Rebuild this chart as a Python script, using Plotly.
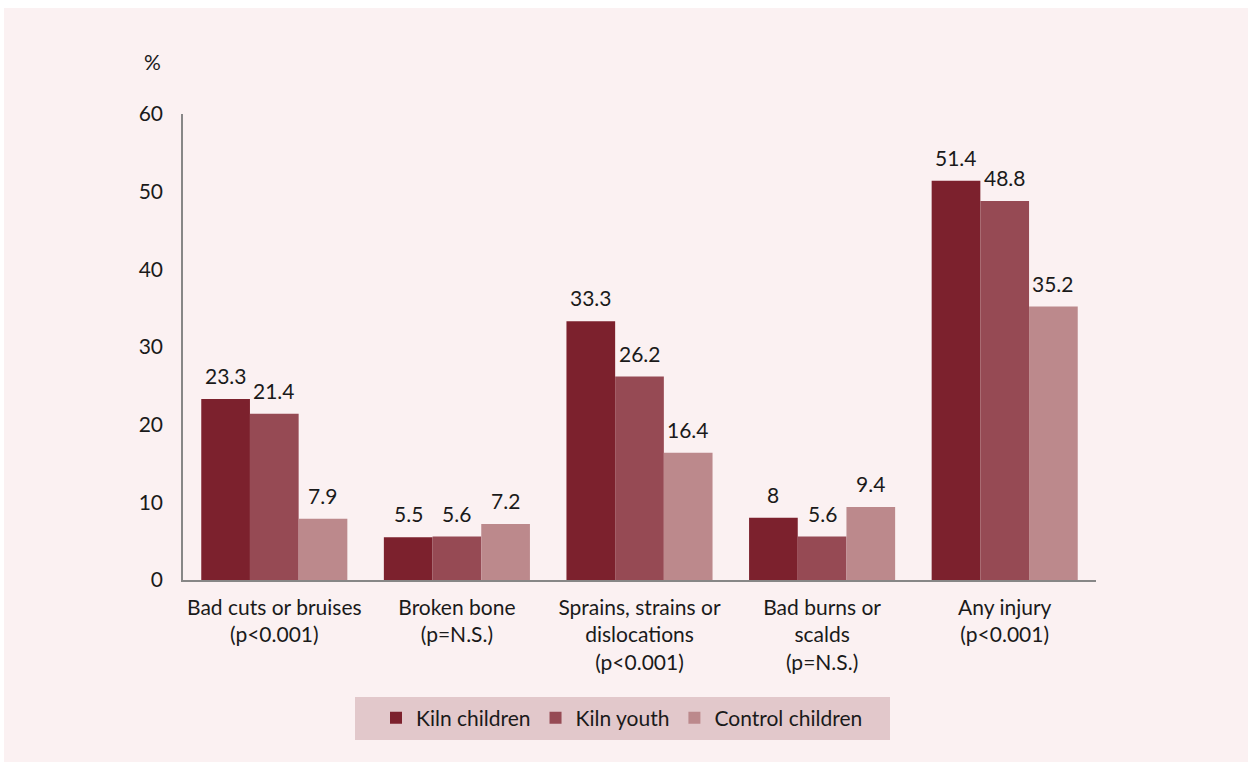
import plotly.graph_objects as go

categories = ["Bad cuts or bruises<br>(p<0.001)", "Broken bone<br>(p=N.S.)",
              "Sprains, strains or<br>dislocations<br>(p<0.001)", "Bad burns or<br>scalds<br>(p=N.S.)",
              "Any injury<br>(p<0.001)"]
kiln_children = [23.3, 5.5, 33.3, 8, 51.4]
kiln_youth = [21.4, 5.6, 26.2, 5.6, 48.8]
control_children = [7.9, 7.2, 16.4, 9.4, 35.2]
series_names = ["Kiln children", "Kiln youth", "Control children"]
colors = ["#7C212D", "#964A54", "#BC898C"]

FONT = "Lato"
FS = 21
TXT = "#1a1a1a"
fig = go.Figure()
all_series = [kiln_children, kiln_youth, control_children]
for name, vals, col in zip(series_names, all_series, colors):
    fig.add_trace(go.Bar(
        name=name, x=categories, y=vals, marker_color=col, marker_line_width=0,
    ))

L, R, T, B = 183, 152, 114, 182
W, H = 1248, 762
pw, ph = W - L - R, H - T - B

def px(x):
    return (x - L) / pw

def py(y):
    return (H - B - y) / ph

annotations = [dict(text="%", xref="paper", yref="paper", x=px(152), y=py(62),
                    xanchor="center", yanchor="middle", showarrow=False,
                    font=dict(family=FONT, size=FS, color=TXT))]
bar_w = 0.8 / len(all_series)
for s, vals in enumerate(all_series):
    off = (s - (len(all_series) - 1) / 2) * bar_w
    for i, v in enumerate(vals):
        annotations.append(dict(text=f"{v:g}", x=i + off, y=v, xref="x", yref="y",
                                yanchor="bottom", yshift=9, showarrow=False,
                                font=dict(family=FONT, size=FS, color=TXT)))

fig.update_layout(
    width=W, height=H, autosize=False,
    margin=dict(l=L, r=R, t=T, b=B),
    paper_bgcolor="#FBF1F2", plot_bgcolor="rgba(0,0,0,0)",
    barmode="group", bargap=0.2, bargroupgap=0,
    font=dict(family=FONT, size=FS, color=TXT),
    showlegend=True,
    legend=dict(orientation="h", x=px(622), xanchor="center", y=py(718), yanchor="middle",
                bgcolor="rgba(0,0,0,0)", font=dict(family=FONT, size=FS, color=TXT),
                itemsizing="constant", tracegroupgap=0),
    xaxis=dict(showline=True, linecolor="#878787", linewidth=1.5, ticks="", showgrid=False,
               ticklabelstandoff=8,
               tickfont=dict(family=FONT, size=FS, color=TXT), fixedrange=True),
    yaxis=dict(range=[0, 60], dtick=10, showline=True, linecolor="#878787", linewidth=1.5,
               ticks="", showgrid=False, zeroline=False, ticklabelstandoff=14,
               tickfont=dict(family=FONT, size=FS, color=TXT), fixedrange=True),
    annotations=annotations,
    shapes=[
        dict(type="rect", xref="paper", yref="paper", x0=px(0), x1=px(4), y0=py(H), y1=py(0),
             fillcolor="white", line_width=0, layer="below"),
        dict(type="rect", xref="paper", yref="paper", x0=px(0), x1=px(W), y0=py(8), y1=py(0),
             fillcolor="white", line_width=0, layer="below"),
        dict(type="rect", xref="paper", yref="paper", x0=px(355), x1=px(890), y0=py(740), y1=py(697),
             fillcolor="#E2C8CB", line_width=0, layer="below"),
    ],
)
fig.write_html("out.html")
